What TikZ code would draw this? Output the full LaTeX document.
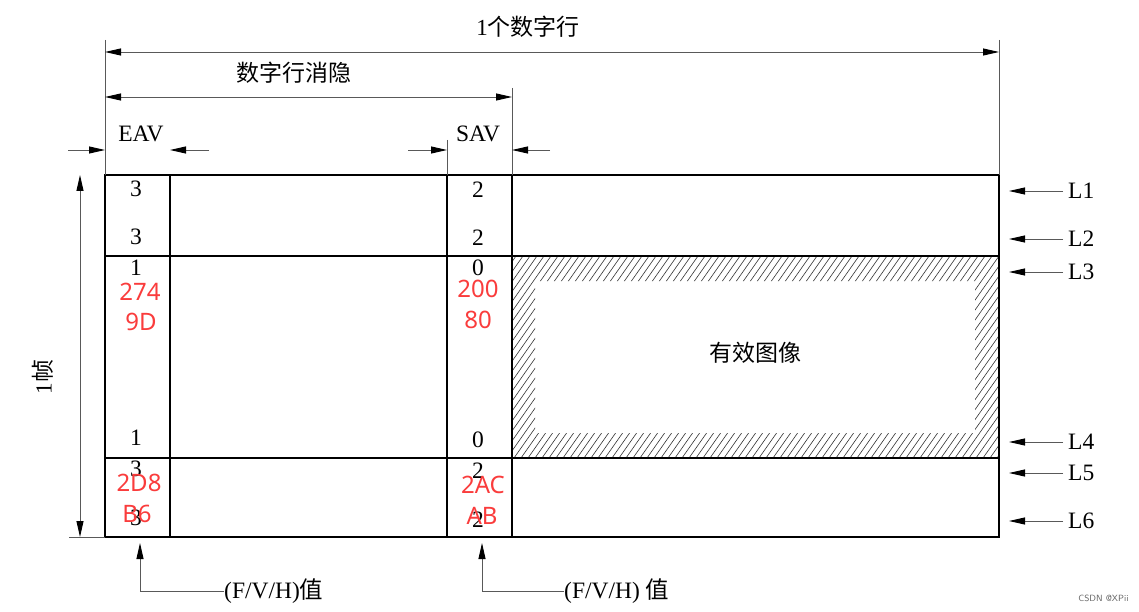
\documentclass[tikz,border=0pt]{standalone}
\usepackage{fontspec}
\setmainfont{Liberation Serif}
\newfontfamily\cjk{Noto Sans CJK SC}
\newfontfamily\redfont{Noto Sans}
\usetikzlibrary{arrows.meta}
\definecolor{redtxt}{RGB}{250,60,60}
\tikzset{
  thinln/.style={draw=black!65, line width=0.9pt},
  boxln/.style={draw=black, line width=2.8pt},
  hatchln/.style={draw=black!80, line width=0.6pt},
  tipped/.style={-{Triangle[length=16pt,width=7pt,color=black]}},
  bothtip/.style={{Triangle[length=16pt,width=7pt,color=black]}-{Triangle[length=16pt,width=7pt,color=black]}},
  lbl/.style={font=\fontsize{23.5}{26}\selectfont, inner sep=0pt},
  cjklbl/.style={font=\fontsize{23}{26}\selectfont, inner sep=0pt},
  redlbl/.style={font=\redfont\fontsize{24}{26}\selectfont, text=redtxt, inner sep=0pt},
}
\begin{document}
\begin{tikzpicture}[x=1pt,y=-1pt]
\useasboundingbox (0,0) rectangle (1139,612);
\fill[white] (0,0) rectangle (1139,612);

% hatched border of the active picture
\begin{scope}[even odd rule]
\clip (512,256) rectangle (999,458) (535,281) rectangle (975,433);
\foreach \x in {360,367,...,1000} \draw[hatchln] (\x,458) -- ++(142,-202);
\end{scope}

% frame grid
\draw[boxln] (105,175) rectangle (999,537);
\draw[boxln] (170,175) -- (170,537);
\draw[boxln] (447,175) -- (447,537);
\draw[boxln] (512,175) -- (512,537);
\draw[boxln] (105,256) -- (999,256);
\draw[boxln] (105,458) -- (999,458);

% extension lines
\draw[thinln] (105,40) -- (105,175);
\draw[thinln] (999,40) -- (999,175);
\draw[thinln] (512,88) -- (512,175);
\draw[thinln] (447,140) -- (447,175);
\draw[thinln] (69,537) -- (105,537);

% dimension: one digital line
\coordinate (dl1) at (105,52);
\coordinate (dl2) at (999,52);
\draw[thinln, bothtip] (dl1) -- (dl2);
\node[cjklbl] (tline) at (528,27) {1{\cjk 个数字行}};

% dimension: line blanking
\coordinate (bl1) at (105,97);
\coordinate (bl2) at (512,97);
\draw[thinln, bothtip] (bl1) -- (bl2);
\node[cjklbl] (tblank) at (294,73) {\cjk 数字行消隐};

% EAV / SAV
\node[lbl] (eav) at (141,134) {EAV};
\node[lbl] (sav) at (478,134) {SAV};
\coordinate (ea1) at (68,150);  \coordinate (ea2) at (105,150);
\coordinate (ea3) at (209,150); \coordinate (ea4) at (170,150);
\coordinate (sa1) at (408,150); \coordinate (sa2) at (447,150);
\coordinate (sa3) at (550,150); \coordinate (sa4) at (512,150);
\draw[thinln, tipped] (ea1) -- (ea2);
\draw[thinln, tipped] (ea3) -- (ea4);
\draw[thinln, tipped] (sa1) -- (sa2);
\draw[thinln, tipped] (sa3) -- (sa4);

% frame dimension
\coordinate (fr1) at (80,175);
\coordinate (fr2) at (80,537);
\draw[thinln, bothtip] (fr1) -- (fr2);
\node[cjklbl, rotate=90] (tframe) at (43,377) {1{\cjk 帧}};

% line markers
\foreach \n/\y in {1/191, 2/239, 3/272, 4/442, 5/473, 6/521} {
  \node[lbl, anchor=west] (L\n) at (1068,\y) {L\n};
  \coordinate (Lt\n) at (1009,\y);
  \draw[thinln, tipped] (L\n.west) ++(-5,0) -- (Lt\n);
}

% EAV column values
\node[lbl] (e1) at (136,189) {3};
\node[lbl] (e2) at (136,237) {3};
\node[lbl] (e3) at (136,268) {1};
\node[lbl] (e4) at (136,438) {1};
\node[lbl] (e5) at (136,469) {3};
\node[lbl] (e6) at (136,518) {3};
% SAV column values
\node[lbl] (s1) at (478,190) {2};
\node[lbl] (s2) at (478,238) {2};
\node[lbl] (s3) at (478,268) {0};
\node[lbl] (s4) at (478,440) {0};
\node[lbl] (s5) at (478,471) {2};
\node[lbl] (s6) at (478,520) {2};

% red hex values (overlapping the black values, as in the source)
\node[redlbl] (r1) at (140,292) {274};
\node[redlbl] (r2) at (141,322) {9D};
\node[redlbl] (r3) at (478,289) {200};
\node[redlbl] (r4) at (478,320) {80};
\node[redlbl] (r5) at (139,483) {2D8};
\node[redlbl] (r6) at (137,514) {B6};
\node[redlbl] (r7) at (483,485) {2AC};
\node[redlbl] (r8) at (482,516) {AB};

% active picture
\node[cjklbl] (act) at (755,353) {\cjk 有效图像};

% (F/V/H) value pointers
\node[lbl, anchor=west] (fv1) at (224,591) {(F/V/H){\cjk 值}};
\node[lbl, anchor=west] (fv2) at (564,591) {(F/V/H) {\cjk 值}};
\coordinate (p1) at (140,543);
\coordinate (p2) at (482,543);
\draw[thinln, tipped] (fv1.west) -| (p1);
\draw[thinln, tipped] (fv2.west) -| (p2);

\node[font=\fontsize{9}{10}\selectfont\sffamily, text=black!60, anchor=east] (wm) at (1132,598) {CSDN @XPii};
\end{tikzpicture}
\end{document}
